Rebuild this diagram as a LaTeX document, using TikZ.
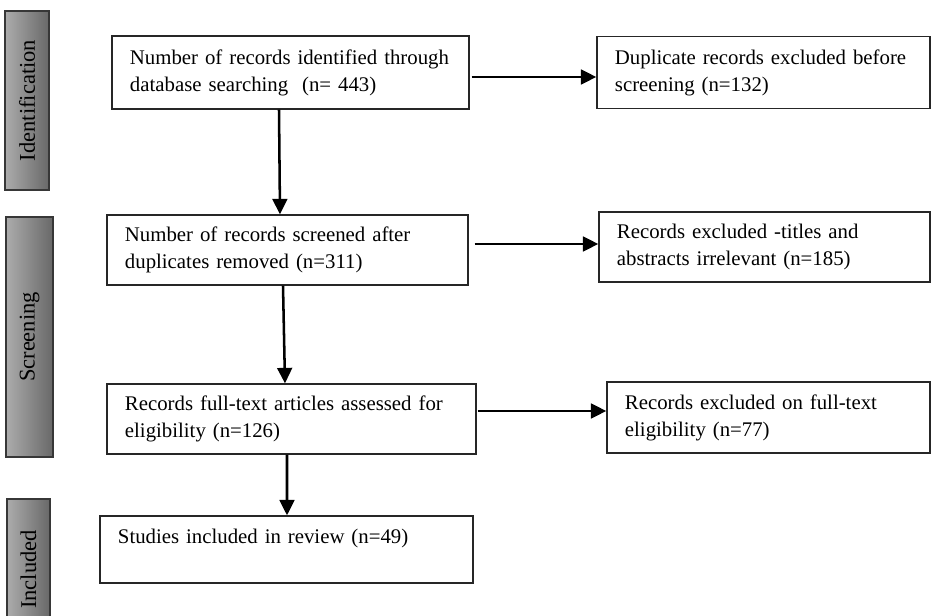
\documentclass[tikz,border=0pt]{standalone}
\usepackage{fontspec}
\usepackage{graphicx}
\setmainfont{Liberation Serif}
\usetikzlibrary{arrows.meta, calc}
\definecolor{barLight} {RGB}{172,172,172}
\definecolor{barDark}  {RGB}{104,104,104}
\definecolor{barEdge}  {RGB}{55,55,55}
\newcommand{\flowfont}{\fontsize{14.8}{19.2}\selectfont}
\newcommand{\stagefont}{\fontsize{16}{19}\selectfont}
\newcommand{\rowtxt}[1]{\mbox{#1}}
\newcommand{\upright}[1]{\rotatebox{90}{#1}}

\begin{document}
\begin{tikzpicture}[x=0.025cm, y=-0.025cm, font=\flowfont,
    box/.style={draw=black!85, line width=0.9pt, align=left, inner xsep=0.45cm, inner ysep=0pt},
    stage/.style={draw=barEdge, line width=1pt, left color=barLight, right color=barDark, inner sep=0pt, font=\stagefont},
    ARR/.style={-{Triangle[length=11pt,width=10.5pt]}, line width=1.8pt}]
    \useasboundingbox (0,0) rectangle (935,616);
    % stage bars
    \node[stage, minimum height=4.475cm, minimum width=1.1cm] (ident) at (27,100.5) {\upright{Identification}};
    \node[stage, minimum height=6cm, minimum width=1.175cm] (screen) at (29.5,337) {\upright{Screening}};
    \node[stage, minimum height=3.525cm, minimum width=1.075cm] (incl) at (28.5,569.5) {\upright{Included}};
    % main column
    \node[box, text width=8.025cm, minimum height=1.825cm] (found) at (290.5,72.5) {\rowtxt{Number of records identified through}\\\rowtxt{database searching~ (n= 443)}};
    \node[box, text width=8.125cm, minimum height=1.75cm] (screened) at (287.5,250) {\rowtxt{Number of records screened after}\\\rowtxt{duplicates removed (n=311)}};
    \node[box, text width=8.325cm, minimum height=1.75cm] (fulltext) at (291.5,419) {\rowtxt{Records full-text articles assessed for}\\\rowtxt{eligibility (n=126)}};
    \node[box, text width=8.425cm, minimum height=1.675cm] (included) at (286.5,549.5) {\rowtxt{Studies included in review (n=49)}\\~};
    % exclusions
    \node[box, text width=7.425cm, minimum height=1.8cm] (dup) at (763.5,72.5) {\rowtxt{Duplicate records excluded before}\\\rowtxt{screening (n=132)}};
    \node[box, text width=7.375cm, minimum height=1.75cm] (exclTA) at (764.5,247) {\rowtxt{Records excluded -titles and}\\\rowtxt{abstracts irrelevant (n=185)}};
    \node[box, text width=7.175cm, minimum height=1.775cm] (exclFT) at (768.5,417.5) {\rowtxt{Records excluded on full-text}\\\rowtxt{eligibility (n=77)}};
    % arrows
    \draw[ARR] ($(found.east)+(2,4.5)$) -- ($(dup.west)+(0,4.5)$);
    \draw[ARR] ($(screened.east)+(6,-6)$) -- ($(exclTA.west)+(0,-3)$);
    \draw[ARR] ($(fulltext.east)+(1,-8)$) -- ($(exclFT.west)+(0,-6.5)$);
    \draw[ARR] ($(found.south)+(-11.5,0)$) -- ($(screened.north)+(-7.5,0)$);
    \draw[ARR] ($(screened.south)+(-4.5,0)$) -- ($(fulltext.north)+(-6.5,0)$);
    \draw[ARR] ($(fulltext.south)+(-4.5,0)$) -- ($(included.north)+(0.5,0)$);
\end{tikzpicture}
\end{document}
